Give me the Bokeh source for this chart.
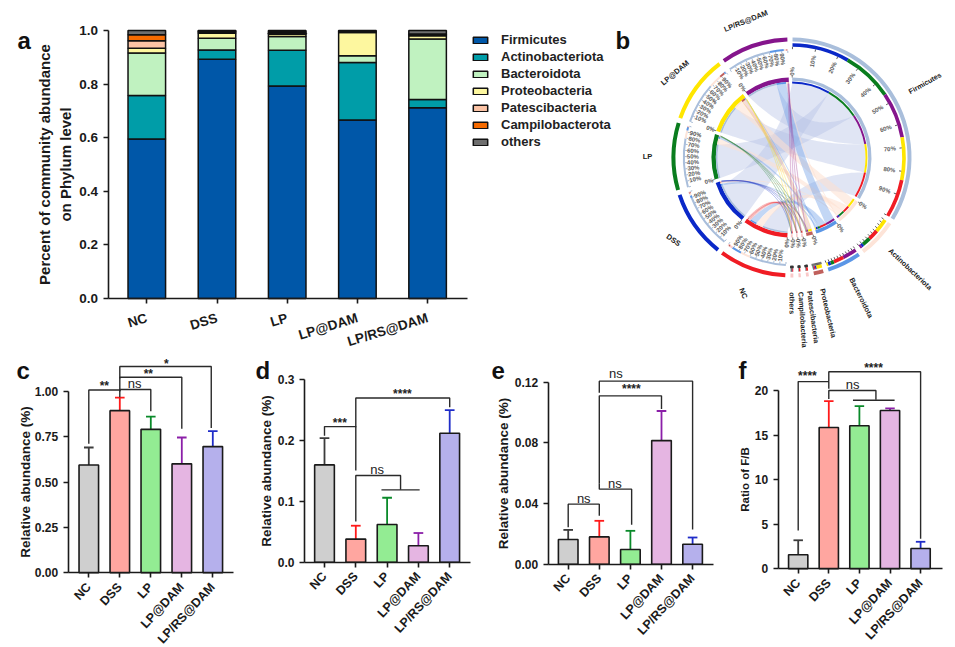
import math
from bokeh.plotting import figure
from bokeh.layouts import column, row
from bokeh.models import (ColumnDataSource, FixedTicker, Legend, LegendItem,
                          NumeralTickFormatter, Range1d)
from bokeh.core.properties import value
from bokeh.embed import file_html
from bokeh.resources import INLINE

FONT = "Liberation Sans"
groups = ["NC", "DSS", "LP", "LP@DAM", "LP/RS@DAM"]
phyla = ["Firmicutes", "Actinobacteriota", "Bacteroidota", "Proteobacteria",
         "Patescibacteria", "Campilobacterota", "others"]
firmicutes = [0.595, 0.893, 0.793, 0.666, 0.712]
actinobacteriota = [0.162, 0.034, 0.133, 0.215, 0.031]
bacteroidota = [0.159, 0.044, 0.052, 0.025, 0.225]
proteobacteria = [0.018, 0.019, 0.008, 0.087, 0.012]
patescibacteria = [0.028, 0.003, 0.004, 0.002, 0.004]
campilobacterota = [0.022, 0.003, 0.004, 0.002, 0.003]
others = [0.016, 0.004, 0.006, 0.003, 0.013]
stack_colors = ["#0057a8", "#009da8", "#c0f2c0", "#fdf79f", "#fbc3a5", "#f76b00", "#6e6e6e"]

bar_fill = ["#cfcfcf", "#ffa6a0", "#93ec93", "#e5b5e2", "#b5b0ec"]
err_col = ["#3c3c3c", "#ff1a1a", "#0a8a2a", "#8b1fa8", "#1f2cc8"]

c_vals = [0.594, 0.893, 0.79, 0.60, 0.695]
c_tops = [0.69, 0.965, 0.86, 0.745, 0.78]
d_vals = [0.16, 0.038, 0.062, 0.027, 0.212]
d_tops = [0.204, 0.06, 0.106, 0.048, 0.25]
e_vals = [0.0163, 0.018, 0.0097, 0.0815, 0.0132]
e_tops = [0.0226, 0.0286, 0.022, 0.101, 0.0176]
f_vals = [1.57, 15.85, 16.04, 17.76, 2.28]
f_tops = [3.2, 18.8, 18.24, 18.0, 3.03]

# brackets: x0, x1, y, left leg end, right leg end
c_br = [(0, 1, 1.007, 0.71, 0.967), (1, 2.0, 1.009, 1.0, 0.89),
        (1, 3, 1.077, 1.0, 0.793), (1, 3.95, 1.136, 1.07, 0.798)]
c_txt = [(0.5, 1.03, "**"), (1.48, 1.045, "ns"), (1.92, 1.095, "**"), (2.5, 1.15, "*")]
d_br = [(0, 1, 0.223, 0.208, 0.151), (1, 4, 0.27, 0.222, 0.255),
        (1, 2.43, 0.1426, 0.067, 0.119), (1.82, 3.04, 0.119, 0.119, 0.119)]
d_txt = [(0.49, 0.229, "***"), (2.49, 0.276, "****"), (1.68, 0.153, "ns")]
e_br = [(0, 1, 0.0396, 0.0244, 0.032), (1, 2.04, 0.0495, 0.053, 0.026),
        (1, 3, 0.111, 0.053, 0.1024), (1, 4, 0.1207, 0.113, 0.0229)]
e_txt = [(0.5, 0.0435, "ns"), (1.5, 0.0535, "ns"), (2.03, 0.1153, "****"), (1.53, 0.1257, "ns")]
f_br = [(0, 1, 21.0, 4.3, 20.2), (1, 4, 22.1, 21.05, 3.36),
        (1, 2.54, 20.0, 19.06, 18.95), (1.79, 3.15, 18.9, 18.9, 18.9)]
f_txt = [(0.3, 21.6, "****"), (2.46, 22.55, "****"), (1.78, 20.7, "ns")]

ROW2 = 350
BOTTOM = 647


def base_fig(left, right, top, bottom, fl, fr, fb, x0, dx, y_val, y_top_page):
    """page-pixel geometry -> figure whose frame is the whole canvas, axes fixed at the spine positions"""
    yscale = (fb - y_top_page) / y_val
    xdata = lambda px: (px - x0) / dx
    ydata = lambda py: (fb - py) / yscale
    p = figure(width=right - left, height=bottom - top, output_backend="svg", toolbar_location=None,
               x_range=Range1d(xdata(left), xdata(right)), y_range=Range1d(ydata(bottom), ydata(top)),
               min_border=0)
    p.grid.visible = False
    p.outline_line_color = None
    p.background_fill_color = None
    p.border_fill_color = None
    for ax in (p.xaxis[0], p.yaxis[0]):
        ax.axis_line_width = 1.6
        ax.axis_line_color = "#1a1a1a"
        ax.major_tick_line_width = 1.6
        ax.major_tick_line_color = "#1a1a1a"
        ax.major_tick_in = 0
        ax.major_tick_out = 5
        ax.minor_tick_line_color = None
        ax.major_label_text_font = FONT
        ax.major_label_text_font_style = "bold"
        ax.major_label_text_color = "#1a1a1a"
        ax.axis_label_text_font = FONT
        ax.axis_label_text_font_style = "bold"
        ax.axis_label_text_color = "#1a1a1a"
    xa, ya = p.xaxis[0], p.yaxis[0]
    xa.ticker = FixedTicker(ticks=list(range(5)))
    xa.major_label_overrides = {i: g for i, g in enumerate(groups)}
    xa.fixed_location = 0
    xa.bounds = (xdata(fl), xdata(fr))
    ya.fixed_location = xdata(fl)
    ya.bounds = (0, y_val)
    p._xd, p._yd = xdata, ydata
    return p


def panel_label(p, txt, px, py):
    p.text([p._xd(px)], [p._yd(py)], text=[txt], text_font=value(FONT), text_font_style="bold",
           text_font_size="24px", text_color="#111111", text_align="left", text_baseline="middle")


# ---------- a
pa = base_fig(0, 612, 0, ROW2, 107.5, 466.6, 298, 146.3, 70.2, 1.0, 30)
src_a = ColumnDataSource(dict(x=list(range(5)), Firmicutes=firmicutes, Actinobacteriota=actinobacteriota,
                              Bacteroidota=bacteroidota, Proteobacteria=proteobacteria,
                              Patescibacteria=patescibacteria, Campilobacterota=campilobacterota,
                              others=others))
rs = pa.vbar_stack(phyla, x="x", width=0.535, source=src_a, fill_color=stack_colors,
                   line_color="#111111", line_width=1.5)
pa.yaxis[0].ticker = FixedTicker(ticks=[0, 0.2, 0.4, 0.6, 0.8, 1.0])
pa.yaxis[0].formatter = NumeralTickFormatter(format="0.0")
pa.yaxis[0].major_label_text_font_size = "13.5px"
pa.yaxis[0].axis_label = "Percent of community abundance\non Phylum level"
pa.yaxis[0].axis_label_text_font_size = "15px"
pa.yaxis[0].axis_label_standoff = 3
pa.xaxis[0].major_label_orientation = math.radians(17)
pa.xaxis[0].major_label_text_font_size = "13.5px"
pa.xaxis[0].major_label_standoff = 14
leg = Legend(items=[LegendItem(label=n, renderers=[r]) for n, r in zip(phyla, rs)],
             location=(471, 350 - 150), orientation="vertical", padding=0, margin=0, spacing=0,
             label_height=17, glyph_height=8, glyph_width=18, label_standoff=12,
             label_text_font=FONT, label_text_font_size="13px", label_text_font_style="bold",
             label_text_color="#222222", background_fill_alpha=0, border_line_color=None)
pa.add_layout(leg, "center")
panel_label(pa, "a", 17, 40)

# ---------- b  chord diagram, 1 data unit = 1 page pixel, derived from panel a's abundances
CX, CY = 791, 157
pb = figure(width=343, height=350, output_backend="svg", toolbar_location=None,
            x_range=Range1d(612 - CX, 955 - CX), y_range=Range1d(CY - 350, CY),
            min_border=0)
pb.axis.visible = False
pb.grid.visible = False
pb.outline_line_color = None
pb.background_fill_color = None
pb.border_fill_color = None

matrix = dict(zip(phyla, [firmicutes, actinobacteriota, bacteroidota, proteobacteria,
                          patescibacteria, campilobacterota, others]))
group_color = dict(zip(groups, ["#f01c24", "#0a28c8", "#0a7d1e", "#ffe600", "#85158c"]))
phylum_color = dict(zip(phyla, ["#a9bedb", "#fde4d8", "#5b96e6", "#c0605c", "#f9c8c8", "#f9c8c8", "#f9c8c8"]))
ribbon_color = dict(zip(phyla, ["#b4c2e4", "#fde0d0", "#6f9fe8", "#e09a96", "#f0b0b0", "#f0b0b0", "#f0b0b0"]))
GAP = 2.5
SCALE = (360 - 12 * GAP) / (sum(sum(v) for v in matrix.values()) * 2)
sectors = {}
link_p, link_g = {}, {}
a = 0.5
for ph in phyla:
    vals = sorted(zip(matrix[ph], groups), key=lambda t: -t[0])
    s = a
    for v, g in vals:
        link_p[(g, ph)] = (a, a + v * SCALE)
        a += v * SCALE
    sectors[ph] = (s, a)
    a += GAP
for i, g in enumerate(groups):
    vals = sorted([(matrix[ph][i], ph) for ph in phyla], key=lambda t: -t[0])
    s = a
    for v, ph in vals:
        link_g[(g, ph)] = (a, a + v * SCALE)
        a += v * SCALE
    sectors[g] = (s, a)
    a += GAP


def ma(cw):
    return math.radians(90 - cw)


def pt(cw, r):
    return r * math.cos(ma(cw)), r * math.sin(ma(cw))


def ring(items, r0, r1):
    """items = list of (start, end, colour); radii in 3x-zoom units"""
    if not items:
        return
    pb.annular_wedge(x=0, y=0, inner_radius=r0 / 3, outer_radius=r1 / 3,
                     start_angle=[ma(i[0]) for i in items], end_angle=[ma(i[1]) for i in items],
                     direction="clock", fill_color=[i[2] for i in items], line_color=None)


def curve(A, B, k=0.35, n=40):
    C = (k * (A[0] + B[0]) / 2, k * (A[1] + B[1]) / 2)
    out = []
    for j in range(1, n):
        t = j / n
        out.append(((1 - t) ** 2 * A[0] + 2 * t * (1 - t) * C[0] + t ** 2 * B[0],
                    (1 - t) ** 2 * A[1] + 2 * t * (1 - t) * C[1] + t ** 2 * B[1]))
    return out


# ribbons
RIB = 222 / 3
for ph in phyla:
    xs, ys, lc = [], [], []
    for g in groups:
        g0, g1 = link_g[(g, ph)]
        p0, p1 = link_p[(g, ph)]
        path = [pt(g0 + (g1 - g0) * k / 12, RIB) for k in range(13)]
        path += curve(pt(g1, RIB), pt(p0, RIB))
        path += [pt(p0 + (p1 - p0) * k / 12, RIB) for k in range(13)]
        path += curve(pt(p1, RIB), pt(g0, RIB))
        xs.append([q[0] for q in path])
        ys.append([q[1] for q in path])
        lc.append(group_color[g])
    small = ph not in ("Firmicutes", "Actinobacteriota", "Bacteroidota")
    pb.patches(xs, ys, fill_color=ribbon_color[ph],
               fill_alpha={"Firmicutes": 0.42, "Actinobacteriota": 0.55, "Bacteroidota": 0.42}.get(ph, 0.35),
               line_color=lc if small else None, line_alpha=0.3, line_width=0.5)

# tracks
ring([(sectors[g][0], sectors[g][1], group_color[g]) for g in groups], 348, 360)
ring([(sectors[g][0], sectors[g][1], group_color[g]) for g in groups], 227, 240)
ring([(sectors[ph][0], sectors[ph][1], phylum_color[ph]) for ph in phyla], 348, 360)
ring([(sectors[ph][0], sectors[ph][1], phylum_color[ph]) for ph in phyla], 230, 240)
link_g_items = [(v[0], v[1], phylum_color[k[1]]) for k, v in link_g.items()]
link_p_items = [(v[0], v[1], group_color[k[0]]) for k, v in link_p.items()]
ring(link_g_items, 320, 326)
ring(link_g_items, 222, 227)
ring(link_p_items, 332, 343)
ring(link_p_items, 222, 228)

# ticks and tick labels
tx0, ty0, tx1, ty1, tc = [], [], [], [], []
lx, ly, lt, la = [], [], [], []
for name, (s, e) in sectors.items():
    is_group = name in groups
    inner, outer = (314, 320) if is_group else (325, 332)
    for k in range(0, 11):
        cw = s + (e - s) * k / 10
        P, Q = pt(cw, inner / 3), pt(cw, outer / 3)
        tx0.append(P[0]); ty0.append(P[1]); tx1.append(Q[0]); ty1.append(Q[1])
        tc.append("#8fa8c8" if is_group else "#333333")
        if 1 <= k <= 9 and (is_group or name == "Firmicutes"):
            L = pt(cw, 296 / 3)
            lx.append(L[0]); ly.append(L[1]); lt.append(f"{k * 10}%")
            la.append(math.radians(90 - cw if cw < 180 else 270 - cw))
    P, Q = pt(s, 240 / 3), pt(s, 247 / 3)
    tx0.append(P[0]); ty0.append(P[1]); tx1.append(Q[0]); ty1.append(Q[1]); tc.append("#555555")
    L = pt(s, 258 / 3)
    lx.append(L[0]); ly.append(L[1]); lt.append("0%")
    la.append(math.radians(90 - s if s < 180 else 270 - s))
pb.segment(tx0, ty0, tx1, ty1, line_color=tc, line_width=0.8)
pb.text(lx, ly, text=lt, angle=la, text_font=value(FONT), text_font_style="bold", text_font_size="6px",
        text_color="#5a5a5a", text_align="center", text_baseline="middle")

# names
for ph in phyla:
    s, e = sectors[ph]
    cw = (s + e) / 2
    P = pt(cw, 404 / 3)
    pb.text([P[0]], [P[1]], text=[ph if ph != "Campilobacterota" else "Campilobacteria"],
            angle=[ma(cw)], text_font=value(FONT),
            text_font_style="bold", text_font_size="7.2px", text_color="#222222",
            text_align="left", text_baseline="middle")
group_rot = dict(zip(groups, [-68, -34, 0, 40, 22]))
for g in groups:
    s, e = sectors[g]
    P = pt((s + e) / 2, 432 / 3)
    pb.text([P[0]], [P[1]], text=[g], angle=[math.radians(group_rot[g])], text_font=value(FONT),
            text_font_style="bold", text_font_size="7.5px", text_color="#222222",
            text_align="center", text_baseline="middle")
pb.text([615 - CX], [CY - 40], text=["b"], text_font=value(FONT), text_font_style="bold",
        text_font_size="24px", text_color="#111111", text_align="left", text_baseline="middle")


# ---------- bar panels
def bar_panel(left, right, fl, fr, fb, x0, dx, yv, ypage, vals, tops, brs, txts, ticks, fmt, ylabel,
              lab, labx, label_size="13.5px", standoff=1):
    p = base_fig(left, right, ROW2, BOTTOM, fl, fr, fb, x0, dx, yv, ypage)
    xs = list(range(5))
    w = 0.155
    p.segment(xs, vals, xs, tops, line_color=err_col, line_width=1.8)
    p.segment([x - w for x in xs], tops, [x + w for x in xs], tops, line_color=err_col, line_width=1.8)
    p.vbar(x=xs, top=vals, width=0.63, fill_color=bar_fill, line_color="#1a1a1a", line_width=1.6)
    p.multi_line([[b[0], b[0], b[1], b[1]] for b in brs], [[b[3], b[2], b[2], b[4]] for b in brs],
                 line_color="#2a2a2a", line_width=1.4)
    for x, y, t in txts:
        is_ns = t == "ns"
        p.text([x], [y], text=[t], text_font=value(FONT),
               text_font_style="normal" if is_ns else "bold",
               text_font_size="13px" if is_ns else "12px", text_color="#222222",
               text_align="center", text_baseline="middle")
    ax = p.yaxis[0]
    ax.ticker = FixedTicker(ticks=ticks)
    if fmt:
        ax.formatter = NumeralTickFormatter(format=fmt)
    ax.major_label_text_font_size = "12px"
    ax.axis_label = ylabel
    ax.axis_label_text_font_size = label_size
    ax.axis_label_standoff = standoff
    xa = p.xaxis[0]
    xa.major_label_orientation = math.radians(47)
    xa.major_label_text_font_size = "12.5px"
    xa.major_label_standoff = 7
    panel_label(p, lab, labx, 370)
    return p


pc = bar_panel(0, 248, 67.7, 233, 572.3, 88.3, 31, 1.0, 390.7, c_vals, c_tops, c_br, c_txt,
               [0, 0.25, 0.5, 0.75, 1.0], "0.00", "Relative abundance (%)", "c", 16, standoff=-1)
pd = bar_panel(248, 478, 304, 470, 561.7, 324, 31.3, 0.3, 379.3, d_vals, d_tops, d_br, d_txt,
               [0, 0.1, 0.2, 0.3], "0.0", "Relative abundance (%)", "d", 255)
pe = bar_panel(478, 735, 547.7, 713, 563.7, 567.7, 31.1, 0.12, 381.7, e_vals, e_tops, e_br, e_txt,
               [0, 0.04, 0.08, 0.12], "0.00", "Relative abundance (%)", "e", 491)
pf = bar_panel(735, 955, 777.7, 941.7, 568.3, 797.7, 30.6, 20, 390, f_vals, f_tops, f_br, f_txt,
               [0, 5, 10, 15, 20], "0", "Ratio of F/B", "f", 738, label_size="11.5px")

page = column(row(pa, pb, spacing=0), row(pc, pd, pe, pf, spacing=0), spacing=0)
open("out.html", "w").write(file_html(page, INLINE))
